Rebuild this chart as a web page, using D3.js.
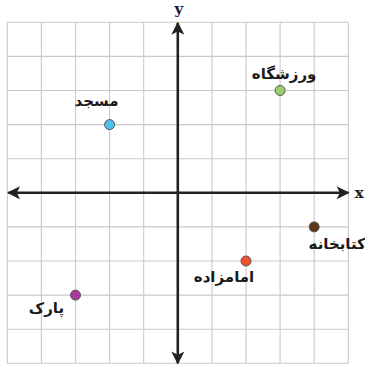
<!DOCTYPE html>
<html>
<head>
<meta charset="utf-8">
<script src="https://cdn.jsdelivr.net/npm/d3@7"></script>
<style>
  body { margin: 0; background: #fff; }
  svg { display: block; }
</style>
</head>
<body>
<script>
var names = ['ورزشگاه', 'مسجد', 'کتابخانه', 'امامزاده', 'پارک'];
var xs = [3, -2, 4, 2, -3];
var ys = [3, 2, -1, -2, -3];
var colors = ['#9bcf6a', '#52c0ec', '#5e3714', '#f0502a', '#a93a9e'];
var gridTicks = d3.range(-5, 6);

// label offsets in pixels (dx, dy from point)
var labelOffsets = [[4, -12], [-13, -19], [23, 22], [-22, 21], [-29, 18]];

var w = 365,
    h = 365;

var svg = d3.select('body').append('svg')
  .attr('width', w)
  .attr('height', h);

var x = d3.scaleLinear().domain([-5, 5]).range([7.3, 348.3]);
var y = d3.scaleLinear().domain([-5, 5]).range([363.3, 22.3]);

var defs = svg.append('defs');
defs.append('marker')
  .attr('id', 'arrow')
  .attr('viewBox', '0 0 10 10')
  .attr('refX', 9)
  .attr('refY', 5)
  .attr('markerWidth', 6)
  .attr('markerHeight', 5)
  .attr('markerUnits', 'strokeWidth')
  .attr('orient', 'auto-start-reverse')
  .append('path')
    .attr('d', 'M0,0 L10,5 L0,10 L2.5,5 Z')
    .attr('fill', '#222');

// grid
var grid = svg.append('g').attr('stroke', '#c9c9c9').attr('stroke-width', 1.1);
grid.selectAll('.vl')
  .data(gridTicks)
  .enter()
  .append('line')
    .attr('x1', function(d) { return x(d); })
    .attr('x2', function(d) { return x(d); })
    .attr('y1', y(5))
    .attr('y2', y(-5));
grid.selectAll('.hl')
  .data(gridTicks)
  .enter()
  .append('line')
    .attr('y1', function(d) { return y(d); })
    .attr('y2', function(d) { return y(d); })
    .attr('x1', x(-5))
    .attr('x2', x(5));

// axes
svg.append('line')
  .attr('x1', x(-4.97)).attr('x2', x(5))
  .attr('y1', y(0)).attr('y2', y(0))
  .attr('stroke', '#222')
  .attr('stroke-width', 2.6)
  .attr('marker-start', 'url(#arrow)')
  .attr('marker-end', 'url(#arrow)');
svg.append('line')
  .attr('x1', x(0)).attr('x2', x(0))
  .attr('y1', y(-5)).attr('y2', y(4.98))
  .attr('stroke', '#222')
  .attr('stroke-width', 2.6)
  .attr('marker-start', 'url(#arrow)')
  .attr('marker-end', 'url(#arrow)');

svg.append('text')
  .attr('x', x(5) + 11)
  .attr('y', y(0) + 5)
  .attr('text-anchor', 'middle')
  .attr('font-family', 'DejaVu Serif, serif')
  .attr('font-weight', 'bold')
  .attr('font-size', 15)
  .attr('fill', '#1c1c2c')
  .text('x');
svg.append('text')
  .attr('x', x(0) + 1)
  .attr('y', 14)
  .attr('text-anchor', 'middle')
  .attr('font-family', 'DejaVu Serif, serif')
  .attr('font-weight', 'bold')
  .attr('font-size', 15)
  .attr('fill', '#1c1c3c')
  .text('y');

// points
var idx = d3.range(names.length);
svg.append('g').selectAll('.pt')
  .data(idx)
  .enter()
  .append('circle')
    .attr('cx', function(i) { return x(xs[i]); })
    .attr('cy', function(i) { return y(ys[i]); })
    .attr('r', 5)
    .attr('fill', function(i) { return colors[i]; })
    .attr('stroke', '#555')
    .attr('stroke-width', 1);

svg.append('g').selectAll('.lbl')
  .data(idx)
  .enter()
  .append('text')
    .attr('x', function(i) { return x(xs[i]) + labelOffsets[i][0]; })
    .attr('y', function(i) { return y(ys[i]) + labelOffsets[i][1]; })
    .attr('text-anchor', 'middle')
    .attr('font-family', 'DejaVu Sans, sans-serif')
    .attr('font-weight', 'bold')
    .attr('font-size', 15)
    .attr('fill', '#1a1a1a')
    .text(function(i) { return names[i]; });
</script>
</body>
</html>
